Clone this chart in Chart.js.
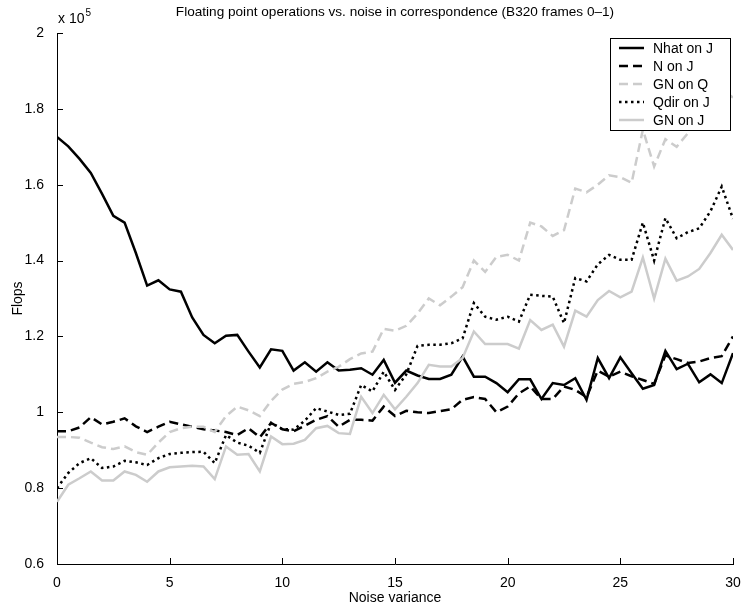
<!DOCTYPE html>
<html>
<head>
  <title>Flops vs noise</title>
  <style>
    body { margin: 0; background: #fff; }
  </style>
</head>
<body>
<canvas id="flopsChart" width="744" height="608"></canvas>

<script src="https://cdn.jsdelivr.net/npm/chart.js"></script>

<script>
  // noise variance steps (x axis)
  const noiseVar = [0, 0.5, 1, 1.5, 2, 2.5, 3, 3.5, 4, 4.5, 5, 5.5, 6, 6.5, 7, 7.5, 8, 8.5, 9, 9.5,
    10, 10.5, 11, 11.5, 12, 12.5, 13, 13.5, 14, 14.5, 15, 15.5, 16, 16.5, 17, 17.5, 18, 18.5, 19, 19.5,
    20, 20.5, 21, 21.5, 22, 22.5, 23, 23.5, 24, 24.5, 25, 25.5, 26, 26.5, 27, 27.5, 28, 28.5, 29, 29.5, 30];

  // flops, in units of 1e5
  const nhatJ = [1.726, 1.701, 1.668, 1.631, 1.576, 1.518, 1.500, 1.420, 1.334, 1.348, 1.324, 1.318, 1.250, 1.204, 1.182, 1.202, 1.204, 1.160, 1.118, 1.166,
    1.162, 1.110, 1.132, 1.107, 1.132, 1.110, 1.112, 1.116, 1.099, 1.138, 1.078, 1.110, 1.097, 1.088, 1.088, 1.099, 1.147, 1.094, 1.094, 1.077,
    1.053, 1.087, 1.087, 1.035, 1.077, 1.072, 1.090, 1.033, 1.143, 1.090, 1.145, 1.103, 1.062, 1.072, 1.162, 1.114, 1.128, 1.079, 1.100, 1.077, 1.156];
  const nJ = [0.950, 0.950, 0.960, 0.987, 0.968, 0.975, 0.984, 0.963, 0.948, 0.962, 0.975, 0.968, 0.962, 0.955, 0.952, 0.948, 0.940, 0.958, 0.934, 0.972,
    0.955, 0.950, 0.965, 0.980, 0.990, 0.962, 0.980, 0.980, 0.978, 1.015, 0.990, 1.004, 1.000, 0.998, 1.003, 1.008, 1.033, 1.040, 1.035, 1.000,
    1.015, 1.050, 1.068, 1.035, 1.035, 1.068, 1.059, 1.040, 1.110, 1.094, 1.107, 1.095, 1.085, 1.075, 1.150, 1.140, 1.130, 1.134, 1.143, 1.148, 1.200];
  const gnQ = [0.935, 0.935, 0.933, 0.920, 0.908, 0.903, 0.910, 0.895, 0.888, 0.920, 0.948, 0.958, 0.962, 0.962, 0.948, 0.990, 1.015, 1.005, 0.990, 1.030,
    1.060, 1.075, 1.080, 1.090, 1.107, 1.120, 1.140, 1.155, 1.160, 1.220, 1.215, 1.228, 1.260, 1.300, 1.282, 1.305, 1.330, 1.400, 1.370, 1.410,
    1.415, 1.400, 1.500, 1.490, 1.465, 1.480, 1.590, 1.580, 1.600, 1.625, 1.620, 1.605, 1.745, 1.648, 1.720, 1.700, 1.736, 1.800, 1.760, 1.850, 1.830];
  const qdirJ = [0.800, 0.840, 0.866, 0.879, 0.853, 0.857, 0.872, 0.868, 0.861, 0.879, 0.890, 0.893, 0.895, 0.896, 0.866, 0.940, 0.920, 0.912, 0.893, 0.972,
    0.956, 0.954, 0.978, 1.011, 1.002, 0.993, 0.996, 1.072, 1.055, 1.107, 1.059, 1.100, 1.175, 1.178, 1.178, 1.182, 1.195, 1.288, 1.252, 1.244,
    1.252, 1.239, 1.310, 1.307, 1.305, 1.235, 1.354, 1.345, 1.390, 1.415, 1.402, 1.402, 1.500, 1.400, 1.512, 1.459, 1.475, 1.485, 1.530, 1.595, 1.510];
  const gnJ = [0.764, 0.809, 0.826, 0.844, 0.820, 0.820, 0.844, 0.835, 0.817, 0.844, 0.855, 0.857, 0.859, 0.857, 0.824, 0.910, 0.888, 0.890, 0.844, 0.936,
    0.916, 0.917, 0.927, 0.958, 0.964, 0.945, 0.943, 1.041, 0.998, 1.046, 1.008, 1.041, 1.077, 1.125, 1.121, 1.121, 1.143, 1.213, 1.180, 1.180,
    1.180, 1.168, 1.243, 1.217, 1.231, 1.173, 1.268, 1.252, 1.296, 1.320, 1.303, 1.318, 1.408, 1.300, 1.405, 1.347, 1.358, 1.378, 1.420, 1.468, 1.428];

  const seriesNames = ['Nhat on J', 'N on J', 'GN on Q', 'Qdir on J', 'GN on J'];
  const seriesData = [nhatJ, nJ, gnQ, qdirJ, gnJ];
  const seriesColors = ['#000000', '#000000', '#cccccc', '#000000', '#cccccc'];
  const seriesDash = [[], [9, 5], [9, 5], [2.5, 3.5], []];

  const FONT = '"Liberation Sans", Arial, Helvetica, sans-serif';

  const datasets = seriesNames.map((name, i) => ({
    label: name,
    data: noiseVar.map((x, j) => ({ x: x, y: seriesData[i][j] })),
    borderColor: seriesColors[i],
    borderDash: seriesDash[i],
    borderWidth: 2.5,
    borderCapStyle: 'butt',
    pointRadius: 0,
    fill: false,
    tension: 0,
    order: seriesNames.length - i
  }));

  // matlab-like extras: inward ticks, title, exponent and boxed legend
  const matlabBits = {
    id: 'matlabBits',
    afterDraw(chart) {
      const { ctx, chartArea: area, scales } = chart;
      ctx.save();

      // inward tick marks
      ctx.strokeStyle = '#000';
      ctx.lineWidth = 1;
      ctx.beginPath();
      scales.y.ticks.forEach(t => {
        const py = Math.round(scales.y.getPixelForValue(t.value)) + 0.5;
        ctx.moveTo(area.left, py);
        ctx.lineTo(area.left + 6, py);
      });
      scales.x.ticks.forEach(t => {
        const px = Math.round(scales.x.getPixelForValue(t.value)) + 0.5;
        ctx.moveTo(px, area.bottom);
        ctx.lineTo(px, area.bottom - 6);
      });
      ctx.stroke();

      // title
      ctx.fillStyle = '#000';
      ctx.font = '13.6px ' + FONT;
      ctx.textAlign = 'center';
      ctx.textBaseline = 'middle';
      ctx.fillText('Floating point operations vs. noise in correspondence (B320 frames 0\u20131)',
        (area.left + area.right) / 2, 12);

      // axis multiplier
      ctx.font = '14px ' + FONT;
      ctx.textAlign = 'left';
      ctx.textBaseline = 'alphabetic';
      ctx.fillText('x 10', area.left + 1, 23);
      const w = ctx.measureText('x 10').width;
      ctx.font = '10px ' + FONT;
      ctx.fillText('5', area.left + 2 + w, 16);

      // legend
      const lx = area.right - 123, ly = area.top + 5, lw = 120, rowH = 18;
      const lh = rowH * seriesNames.length + 2;
      ctx.fillStyle = '#fff';
      ctx.fillRect(lx, ly, lw, lh);
      ctx.strokeStyle = '#000';
      ctx.lineWidth = 1;
      ctx.strokeRect(lx + 0.5, ly + 0.5, lw, lh);
      ctx.font = '14px ' + FONT;
      ctx.textBaseline = 'middle';
      seriesNames.forEach((name, i) => {
        const cy = ly + 10 + i * rowH;
        ctx.save();
        ctx.strokeStyle = seriesColors[i];
        ctx.lineWidth = 2.5;
        ctx.setLineDash(seriesDash[i]);
        ctx.beginPath();
        ctx.moveTo(lx + 9, cy);
        ctx.lineTo(lx + 34, cy);
        ctx.stroke();
        ctx.restore();
        ctx.fillStyle = '#000';
        ctx.fillText(name, lx + 43, cy + 1);
      });

      ctx.restore();
    }
  };

  new Chart(document.getElementById('flopsChart'), {
    type: 'line',
    data: { datasets: datasets },
    options: {
      responsive: false,
      animation: false,
      layout: { padding: { top: 33, right: 11, left: 0, bottom: 0 } },
      plugins: {
        legend: { display: false },
        tooltip: { enabled: false }
      },
      scales: {
        x: {
          type: 'linear',
          min: 0,
          max: 30,
          grid: { display: false },
          border: { display: true, color: '#000', width: 1 },
          ticks: { stepSize: 5, padding: 3, color: '#000', font: { family: FONT, size: 14 } },
          title: { display: true, text: 'Noise variance', color: '#000', padding: { top: 0, bottom: 1 },
            font: { family: FONT, size: 14 } },
          afterFit: s => { s.height = 44; }
        },
        y: {
          min: 0.6,
          max: 2,
          grid: { display: false },
          border: { display: true, color: '#000', width: 1 },
          ticks: {
            stepSize: 0.2,
            padding: 5,
            color: '#000',
            font: { family: FONT, size: 14 },
            callback: v => String(+v.toFixed(1))
          },
          title: { display: true, text: 'Flops', color: '#000', padding: { top: 10, bottom: 0 },
            font: { family: FONT, size: 14 } },
          afterFit: s => { s.width = 57; }
        }
      }
    },
    plugins: [matlabBits]
  });
</script>
</body>
</html>
